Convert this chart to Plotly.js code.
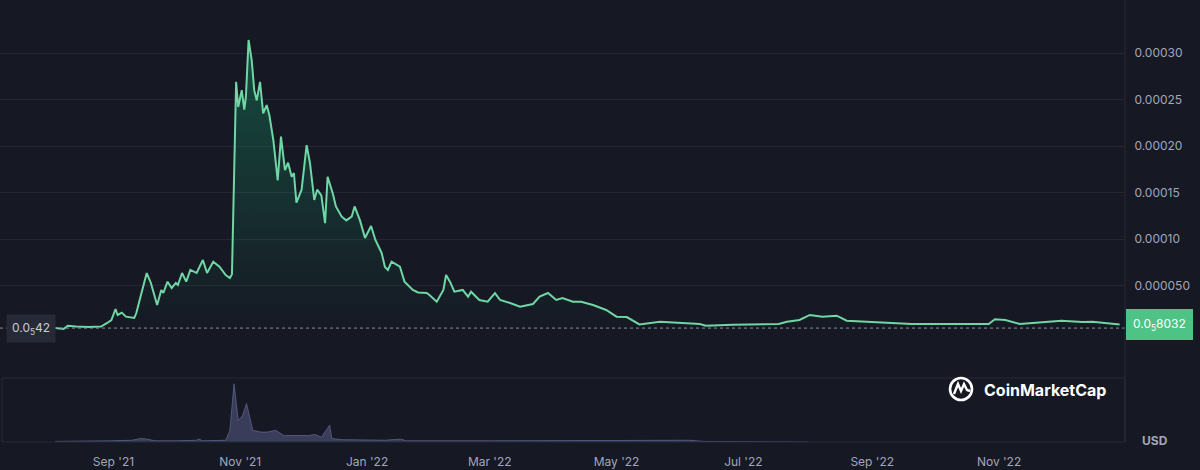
<!DOCTYPE html>
<html>
<head>
<meta charset="utf-8">
<script src="https://cdn.plot.ly/plotly-3.0.1.min.js"></script>
<style>
  html, body { margin: 0; padding: 0; background: #161823; }
  #chart { width: 1200px; height: 470px; }
</style>
</head>
<body>
<div id="chart"></div>
<script>
// ---- Price series (USD) ----
const priceDates = [
  '2021-08-04','2021-08-08','2021-08-10','2021-08-14','2021-08-20','2021-08-26','2021-08-29','2021-08-31',
  '2021-09-02','2021-09-03','2021-09-05','2021-09-07','2021-09-11','2021-09-12','2021-09-14','2021-09-15',
  '2021-09-17','2021-09-19','2021-09-22','2021-09-24','2021-09-25','2021-09-27','2021-09-29','2021-10-01',
  '2021-10-02','2021-10-04','2021-10-06','2021-10-08','2021-10-11','2021-10-14','2021-10-16','2021-10-19',
  '2021-10-22','2021-10-25','2021-10-27','2021-10-28',
  '2021-10-30','2021-10-31','2021-11-01 17:00','2021-11-02 22:00','2021-11-03 17:00','2021-11-05','2021-11-06 12:00',
  '2021-11-07 17:00','2021-11-08 22:00','2021-11-10 12:00','2021-11-12','2021-11-13 17:00','2021-11-15',
  '2021-11-16 22:00','2021-11-19','2021-11-20 14:00','2021-11-22 12:00','2021-11-24','2021-11-25 17:00',
  '2021-11-26 19:00','2021-11-28','2021-11-30 12:00','2021-12-02 22:00','2021-12-04 12:00','2021-12-06 14:00',
  '2021-12-08','2021-12-10','2021-12-11 19:00','2021-12-13','2021-12-15 12:00','2021-12-17','2021-12-19 19:00',
  '2021-12-22','2021-12-24 14:00','2021-12-26','2021-12-28 14:00','2021-12-31','2022-01-02 22:00','2022-01-05',
  '2022-01-08','2022-01-09 14:00','2022-01-11','2022-01-12 19:00','2022-01-16 19:00','2022-01-19','2022-01-23',
  '2022-01-25 12:00','2022-01-29 17:00','2022-01-31','2022-02-03 12:00','2022-02-06 17:00','2022-02-08',
  '2022-02-09 22:00','2022-02-12','2022-02-16','2022-02-18 14:00','2022-02-20','2022-02-24','2022-02-28',
  '2022-03-03 12:00','2022-03-06','2022-03-10 19:00','2022-03-15 14:00','2022-03-21 19:00','2022-03-25',
  '2022-03-29','2022-04-02','2022-04-05','2022-04-10','2022-04-14','2022-04-19 17:00','2022-04-26','2022-05-01',
  '2022-05-05 22:00','2022-05-12','2022-05-21 22:00','2022-05-30','2022-06-10','2022-06-13','2022-06-26',
  '2022-07-18','2022-07-21 22:00','2022-07-28','2022-08-02','2022-08-08','2022-08-14 22:00','2022-08-19 17:00',
  '2022-08-29','2022-09-08','2022-09-20','2022-10-08','2022-10-27','2022-10-30','2022-11-04','2022-11-11',
  '2022-11-20','2022-12-01','2022-12-11','2022-12-16','2022-12-29'
];
const priceValues = [
  4.2e-6, 3.2e-6, 6.8e-6, 5.9e-6, 5.5e-6, 5.8e-6, 9.7e-6, 12.9e-6,
  24.7e-6, 18.3e-6, 20.8e-6, 16.5e-6, 15.1e-6, 20.4e-6, 38.0e-6, 47.3e-6,
  63.4e-6, 52.7e-6, 29.0e-6, 45.2e-6, 41.9e-6, 54.1e-6, 47.3e-6, 52.7e-6,
  50.5e-6, 63.4e-6, 54.1e-6, 66.7e-6, 63.4e-6, 77.4e-6, 63.4e-6, 75.6e-6,
  70.2e-6, 61.3e-6, 58.1e-6, 62.0e-6,
  269e-6, 242e-6, 260e-6, 239e-6, 253e-6, 314e-6, 292e-6,
  260e-6, 249e-6, 269e-6, 235e-6, 244e-6, 233e-6,
  206e-6, 163e-6, 210e-6, 174e-6, 182e-6, 167e-6,
  171e-6, 139e-6, 153e-6, 201e-6, 182e-6, 142e-6,
  153e-6, 147e-6, 117e-6, 167e-6, 149e-6, 135e-6, 124e-6,
  120e-6, 124e-6, 135e-6, 120e-6, 101e-6, 114e-6, 99e-6,
  85e-6, 70e-6, 66.7e-6, 75.6e-6, 70.2e-6, 54.1e-6, 45.2e-6,
  42.5e-6, 41.9e-6, 39.8e-6, 32.6e-6, 45.2e-6, 61.3e-6,
  53.8e-6, 43.3e-6, 45.2e-6, 38.0e-6, 43.3e-6, 34.4e-6, 32.6e-6,
  41.9e-6, 34.4e-6, 31.2e-6, 27.2e-6, 30.1e-6, 38.0e-6,
  41.9e-6, 34.4e-6, 36.6e-6, 32.6e-6, 32.6e-6, 29.0e-6, 23.7e-6, 16.5e-6,
  16.1e-6, 8.1e-6, 11.1e-6, 10.0e-6, 8.6e-6, 6.8e-6, 7.8e-6,
  8.6e-6, 11.1e-6, 12.9e-6, 18.3e-6, 16.5e-6, 17.5e-6, 12.2e-6,
  11.1e-6, 10.0e-6, 8.6e-6, 8.6e-6, 8.6e-6, 13.7e-6, 12.9e-6, 8.6e-6,
  10.0e-6, 12.2e-6, 10.8e-6, 11.1e-6, 8.032e-6
];

// ---- Volume series (relative units) ----
const volumeDates = [
  '2021-08-04','2021-08-20','2021-08-30','2021-09-10','2021-09-14','2021-09-17','2021-09-21','2021-10-01',
  '2021-10-11','2021-10-12','2021-10-14','2021-10-25','2021-10-27','2021-10-29','2021-10-31','2021-11-02',
  '2021-11-04','2021-11-07','2021-11-11','2021-11-14','2021-11-18','2021-11-22','2021-11-26','2021-12-04',
  '2021-12-07','2021-12-10','2021-12-14','2021-12-15','2021-12-20','2022-01-10','2022-01-17','2022-01-20',
  '2022-03-01','2022-04-15','2022-05-17','2022-06-05','2022-06-12','2022-07-30','2022-08-01'
];
const volumeValues = [
  1, 1, 2, 3, 6, 5, 2, 2,
  3, 5, 2, 3, 20, 100, 37, 45,
  66, 20, 17, 17, 20, 11, 11, 11,
  13, 8, 29, 6, 4, 3, 5, 2,
  2, 2, 3, 3, 1, 1, 0
];

// ---- Axis ticks ----
const priceTickVals = [0.00005, 0.0001, 0.00015, 0.0002, 0.00025, 0.0003];
const priceTickText = ['0.000050', '0.00010', '0.00015', '0.00020', '0.00025', '0.00030'];
const dateTickVals = ['2021-09-01','2021-11-01','2022-01-01','2022-03-01','2022-05-01','2022-07-01','2022-09-01','2022-11-01'];
const dateTickText = ["Sep '21","Nov '21","Jan '22","Mar '22","May '22","Jul '22","Sep '22","Nov '22"];
const startLabel = '0.0<sub>5</sub>42';
const lastLabel = '0.0<sub>5</sub>8032';

const startPrice = priceValues[0];
const lastPrice = priceValues[priceValues.length - 1];

// geometry helpers (paper coords, plot spans px 0..1125 horizontally, 0..442 vertically)
const PW = 1125, PH = 442;
const px = v => v / PW;
const py = v => (PH - v) / PH;

const priceTrace = {
  x: priceDates, y: priceValues, type: 'scatter', mode: 'lines',
  xaxis: 'x', yaxis: 'y',
  line: { color: '#6fd6a4', width: 2, shape: 'linear' },
  fill: 'tozeroy',
  fillgradient: {
    type: 'vertical',
    colorscale: [[0, 'rgba(22,199,132,0.0)'], [1, 'rgba(22,199,132,0.30)']]
  },
  hoverinfo: 'skip'
};

const volumeTrace = {
  x: volumeDates, y: volumeValues, type: 'scatter', mode: 'lines',
  xaxis: 'x', yaxis: 'y2',
  line: { color: 'rgba(88,92,130,0.9)', width: 1 },
  fill: 'tozeroy', fillcolor: 'rgba(70,74,110,0.75)',
  hoverinfo: 'skip'
};

const gridCol = '#232634';
const tickCol = '#a1a7bb';

const layout = {
  width: 1200, height: 470,
  margin: { l: 0, r: 75, t: 0, b: 28 },
  paper_bgcolor: '#161823',
  plot_bgcolor: '#161823',
  showlegend: false,
  font: { family: 'Inter, "Noto Sans", sans-serif', color: tickCol, size: 12 },
  xaxis: {
    type: 'date',
    range: ['2021-07-08 10:00', '2022-12-31 14:00'],
    anchor: 'y2',
    tickvals: dateTickVals, ticktext: dateTickText,
    showgrid: false, zeroline: false, showline: false,
    ticks: 'outside', ticklen: 9, tickcolor: 'rgba(0,0,0,0)',
    tickfont: { color: tickCol, size: 12 }
  },
  yaxis: {
    domain: [65 / PH, 1],
    range: [-48.4e-6, 357e-6],
    side: 'right',
    tickvals: priceTickVals, ticktext: priceTickText,
    showgrid: true, gridcolor: gridCol, gridwidth: 1,
    zeroline: false, showline: false,
    ticks: 'outside', ticklen: 6, tickcolor: 'rgba(0,0,0,0)',
    tickfont: { color: tickCol, size: 12 }
  },
  yaxis2: {
    domain: [0, 64 / PH],
    range: [0, 110],
    showgrid: false, zeroline: false, showline: false, showticklabels: false, ticks: ''
  },
  shapes: [
    // dotted start-price line
    { type: 'line', xref: 'paper', yref: 'y', x0: 0, x1: 1, y0: startPrice, y1: startPrice,
      line: { color: '#8a8f9f', width: 1, dash: 'dot' } },
    // right axis separator
    { type: 'line', xref: 'paper', yref: 'paper', x0: 1, x1: 1, y0: 0, y1: 1,
      line: { color: '#262a38', width: 1 } },
    // volume panel frame
    { type: 'rect', xref: 'paper', yref: 'paper', x0: px(2), x1: 1, y0: 0, y1: 64 / PH,
      line: { color: '#262a38', width: 1 }, fillcolor: 'rgba(0,0,0,0)' },
    // logo circle
    { type: 'circle', xref: 'paper', yref: 'paper', xsizemode: 'pixel', ysizemode: 'pixel',
      xanchor: px(961), yanchor: py(389), x0: -11, x1: 11, y0: -11, y1: 11,
      line: { color: '#ffffff', width: 2.6 } },
    // logo "M" wave
    { type: 'path', xref: 'paper', yref: 'paper', xsizemode: 'pixel', ysizemode: 'pixel',
      xanchor: px(961), yanchor: py(389),
      path: 'M -7,-5 L -3,5 L 0,-2 L 3,5 L 6,-1 L 9,-2',
      line: { color: '#ffffff', width: 2.4 } }
  ],
  annotations: [
    // start price label
    { xref: 'paper', yref: 'y', x: px(6), y: startPrice, xanchor: 'left', yanchor: 'middle',
      text: startLabel, showarrow: false, font: { color: '#c9ccd6', size: 12 },
      bgcolor: '#262936', borderpad: 5 },
    // last price label
    { xref: 'paper', yref: 'y', x: 1.001, y: lastPrice, xanchor: 'left', yanchor: 'middle',
      text: lastLabel, showarrow: false, font: { color: '#ffffff', size: 12 },
      bgcolor: '#4dc386', bordercolor: '#4dc386', borderpad: 6 },
    // brand
    { xref: 'paper', yref: 'paper', x: px(982), y: py(390), xanchor: 'left', yanchor: 'middle',
      text: '<b>CoinMarketCap</b>', showarrow: false, font: { color: '#ffffff', size: 16 } },
    // currency
    { xref: 'paper', yref: 'paper', x: px(1140), y: py(440), xanchor: 'left', yanchor: 'middle',
      text: '<b>USD</b>', showarrow: false, font: { color: tickCol, size: 12 } }
  ]
};

Plotly.newPlot('chart', [volumeTrace, priceTrace], layout, { displayModeBar: false, staticPlot: true });
</script>
</body>
</html>
